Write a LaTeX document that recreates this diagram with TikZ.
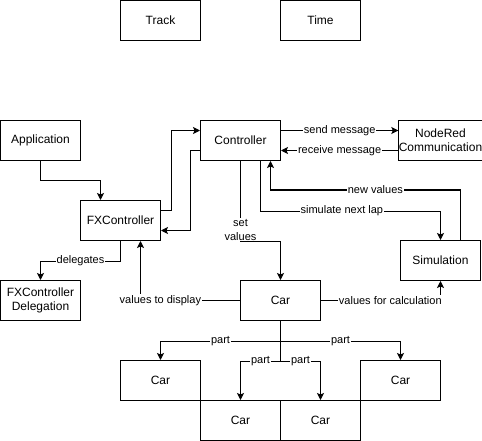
\documentclass[tikz,border=0pt]{standalone}
\usepackage{fontspec}
\setmainfont{Liberation Sans}
\usetikzlibrary{arrows.meta}
\begin{document}
\begin{tikzpicture}[x=1pt,y=-1pt,line width=1pt,
  box/.style={draw,minimum width=80pt,minimum height=40pt,inner sep=0pt,align=center,font=\fontsize{12}{14}\selectfont},
  lbl/.style={fill=white,inner sep=1pt,align=center,font=\fontsize{11}{14}\selectfont},
  arr/.style={-{Stealth[length=7pt,width=7pt,inset=1.5pt]}}]
\useasboundingbox (-0.5,-0.5) rectangle (481.5,440.5);
\node[box] (track) at (160,20) {Track};
\node[box] (time) at (320,20) {Time};
\node[box] (app) at (40,140) {Application};
\node[box] (ctrl) at (240,140) {Controller};
\node[box] (nodered) at (440,140) {NodeRed\\Communication};
\node[box] (fxc) at (120,220) {FXController};
\node[box] (sim) at (440,260) {Simulation};
\node[box] (fxd) at (40,300) {FXController\\Delegation};
\node[box] (car) at (280,300) {Car};
\node[box] (carL) at (160,380) {Car};
\node[box] (carR) at (400,380) {Car};
\node[box] (carB1) at (240,420) {Car};
\node[box] (carB2) at (320,420) {Car};
% edges
\draw[arr] (app.south) -- ++(0,20) -| ([xshift=-20pt]fxc.north);
\draw[arr] ([yshift=10pt]fxc.east) -- ++(10,0) |- ([yshift=10pt]ctrl.west);
\draw[arr] ([yshift=-10pt]ctrl.west) -- ++(-10,0) |- ([yshift=-10pt]fxc.east);
\draw[arr] ([yshift=10pt]ctrl.east) -- node[lbl]{send message} ([yshift=10pt]nodered.west);
\draw[arr] ([yshift=-10pt]nodered.west) -- node[lbl]{receive message} ([yshift=-10pt]ctrl.east);
\draw[arr] ([xshift=20pt]sim.north) -- ++(0,-50) -| node[lbl,pos=0.224]{new values} ([xshift=30pt]ctrl.south);
\draw[arr] ([xshift=20pt]ctrl.south) -- ++(0,50) -| node[lbl,pos=0.226]{simulate next lap} (sim.north);
\draw[arr] (ctrl.south) -- node[lbl,pos=0.86]{set\\values} ++(0,80) -| (car.north);
\draw[arr] (car.west) -| node[lbl,pos=0.4]{values to display} ([xshift=20pt]fxc.south);
\draw[arr] (fxc.south) -- ++(0,20) -| node[lbl,pos=0.25]{delegates} (fxd.north);
\draw[arr] (car.east) -| node[lbl,pos=0.29]{values for calculation} (sim.south);
\draw[arr] (car.south) -- ++(0,20) -| node[lbl,pos=0.25]{part} (carL.north);
\draw[arr] (car.south) -- ++(0,20) -| node[lbl,pos=0.25]{part} (carR.north);
\draw[arr] (car.south) -- ++(0,40) -| node[lbl,pos=0.25]{part} (carB1.north);
\draw[arr] (car.south) -- ++(0,40) -| node[lbl,pos=0.25]{part} (carB2.north);
\end{tikzpicture}
\end{document}
